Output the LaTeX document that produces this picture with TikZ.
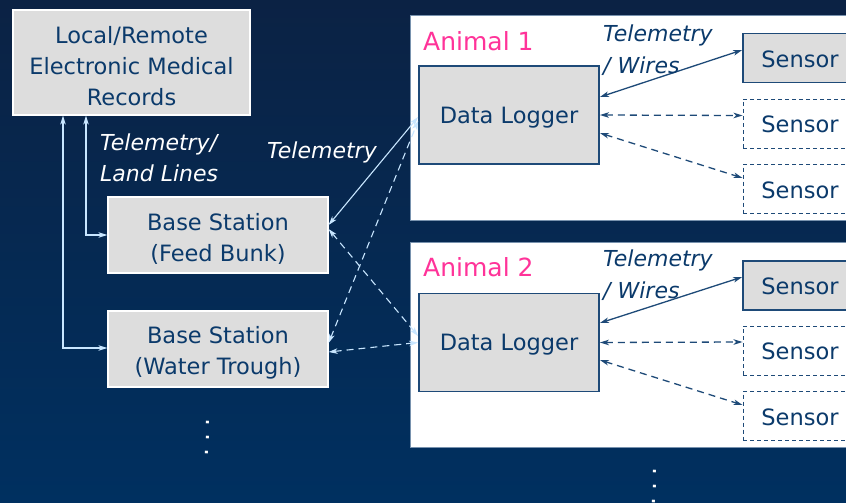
\documentclass[tikz,border=0pt]{standalone}
\usepackage{fontspec}
\setmainfont{DejaVu Sans}
\usetikzlibrary{arrows.meta}
\definecolor{bgtop}{HTML}{0B2244}
\definecolor{bgbot}{HTML}{003060}
\definecolor{ink}{HTML}{0B3A6B}
\definecolor{boxgray}{HTML}{DDDDDD}
\definecolor{frame}{HTML}{1E4A78}
\definecolor{pale}{HTML}{C8E6FF}
\definecolor{pink}{HTML}{FF3399}
\newcommand{\mainsz}{\fontsize{22.5}{31}\selectfont}
\newcommand{\labsz}{\fontsize{22}{31.5}\selectfont\itshape}
% taller first line, so that the block sits a little lower in its box
\newcommand{\topstrut}{\rule{0pt}{25pt}}
% three spaced dots, set on their side below a column
\newcommand{\moredots}{.\hspace{7pt}.\hspace{7pt}.}
\tikzset{
  tip/.style={arrows={Stealth[length=9pt,width=5.5pt,inset=2.5pt]-Stealth[length=9pt,width=5.5pt,inset=2.5pt]}},
  hostbox/.style={draw=white, line width=1.2pt, fill=boxgray, text=ink, font=\mainsz,
    align=center, inner sep=0pt},
  loggerbox/.style={draw=frame, line width=1.8pt, fill=boxgray, text=ink, font=\mainsz,
    minimum width=180pt, minimum height=98pt, inner sep=0pt, text height=22pt, text depth=5.3pt},
  sensorbox/.style={draw=frame, line width=1.6pt, fill=boxgray, text=ink, font=\mainsz,
    minimum width=114pt, minimum height=49pt, inner sep=0pt, text height=18.5pt, text depth=0pt},
  sparebox/.style={sensorbox, fill=white, line width=0.9pt, dash pattern=on 4pt off 3pt},
  panel/.style={fill=white, draw=frame!60, line width=0.6pt},
  uplink/.style={draw=pale, line width=1.1pt, tip},
  uplinkdash/.style={uplink, dash pattern=on 7pt off 5pt},
  wire/.style={draw=frame, line width=1.3pt, tip},
  wiredash/.style={wire, dash pattern=on 7pt off 5pt},
  tag/.style={text=white, font=\labsz, inner sep=0pt},
  innertag/.style={text=ink, font=\labsz, inner sep=0pt, align=left},
  animaltag/.style={text=pink, font=\fontsize{25}{30}\selectfont, inner sep=0pt, anchor=west},
  dots/.style={text=white, font=\fontsize{25}{25}\selectfont, inner sep=0pt, rotate=-92,
    text height=3pt, text depth=0pt}
}
\begin{document}
\begin{tikzpicture}[x=1pt,y=-1pt]
\useasboundingbox (0,0) rectangle (846,503);
\shade[top color=bgtop, bottom color=bgbot] (0,0) rectangle (846,503);
\clip (0,0) rectangle (846,503);

% records and base stations
\node[hostbox, minimum width=237pt, minimum height=105pt] (emr) at (131.5,62.5)
  {\topstrut Local/Remote\\Electronic Medical\\Records};
\node[hostbox, minimum width=220pt, minimum height=76pt] (fb) at (218,235)
  {\topstrut Base Station\\(Feed Bunk)};
\node[hostbox, minimum width=220pt, minimum height=76pt] (wt) at (218,349)
  {\topstrut Base Station\\(Water Trough)};

% animal panels
\fill[panel] (410,15) rectangle (852,220);
\fill[panel] (410,242) rectangle (852,447);
\draw[frame!60, line width=0.6pt] (852,15) -- (410,15) -- (410,220) -- (852,220);
\draw[frame!60, line width=0.6pt] (852,242) -- (410,242) -- (410,447) -- (852,447);

\node[animaltag] (a1) at (423,41) {Animal 1};
\node[animaltag] (a2) at (423,267) {Animal 2};

\node[loggerbox] (dl1) at (509,115) {Data Logger};
\node[loggerbox] (dl2) at (509,342.5) {Data Logger};

\node[sensorbox] (s11) at (800,58) {Sensor};
\node[sparebox]  (s12) at (800,123.5) {Sensor};
\node[sparebox]  (s13) at (800,189) {Sensor};
\node[sensorbox] (s21) at (800,285.5) {Sensor};
\node[sparebox]  (s22) at (800,350.5) {Sensor};
\node[sparebox]  (s23) at (800,416) {Sensor};

% logger to sensor links
\draw[wire]     ([yshift=18pt]dl1.east) -- ([yshift=8pt]s11.west);
\draw[wiredash] (dl1.east) -- ([yshift=8pt]s12.west);
\draw[wiredash] ([yshift=-18pt]dl1.east) -- ([yshift=11pt]s13.west);
\draw[wire]     ([yshift=19.5pt]dl2.east) -- ([yshift=8.5pt]s21.west);
\draw[wiredash] (dl2.east) -- ([yshift=8.5pt]s22.west);
\draw[wiredash] ([yshift=-17.5pt]dl2.east) -- ([yshift=11pt]s23.west);

\node[innertag] (w1) at (603,50) [anchor=west] {Telemetry\\/ Wires};
\node[innertag] (w2) at (603,275) [anchor=west] {Telemetry\\/ Wires};

% base station to logger links
\draw[uplink]     ([yshift=10pt]fb.east) -- ([yshift=-2pt]dl1.west);
\draw[uplinkdash] ([yshift=6pt]fb.east) -- ([yshift=6.5pt]dl2.west);
\draw[uplinkdash] ([yshift=6pt]wt.east) -- ([yshift=-6pt]dl1.west);
\draw[uplinkdash] ([yshift=-3pt]wt.east) -- (dl2.west);

% records to base station links
\draw[uplink] ([xshift=-68.5pt]emr.south) |- ([yshift=1pt]wt.west);
\draw[uplink] ([xshift=-45.5pt]emr.south) |- (fb.west);

\node[tag, align=left, anchor=west] (tl) at (100,158) {Telemetry/\\Land Lines};
\node[tag] (tm) at (322,152) {Telemetry};

% more stations and more animals below
\node[dots] (m1) at (207.5,437.5) {\moredots};
\node[dots] (m2) at (654.5,486.5) {\moredots};
\end{tikzpicture}
\end{document}
